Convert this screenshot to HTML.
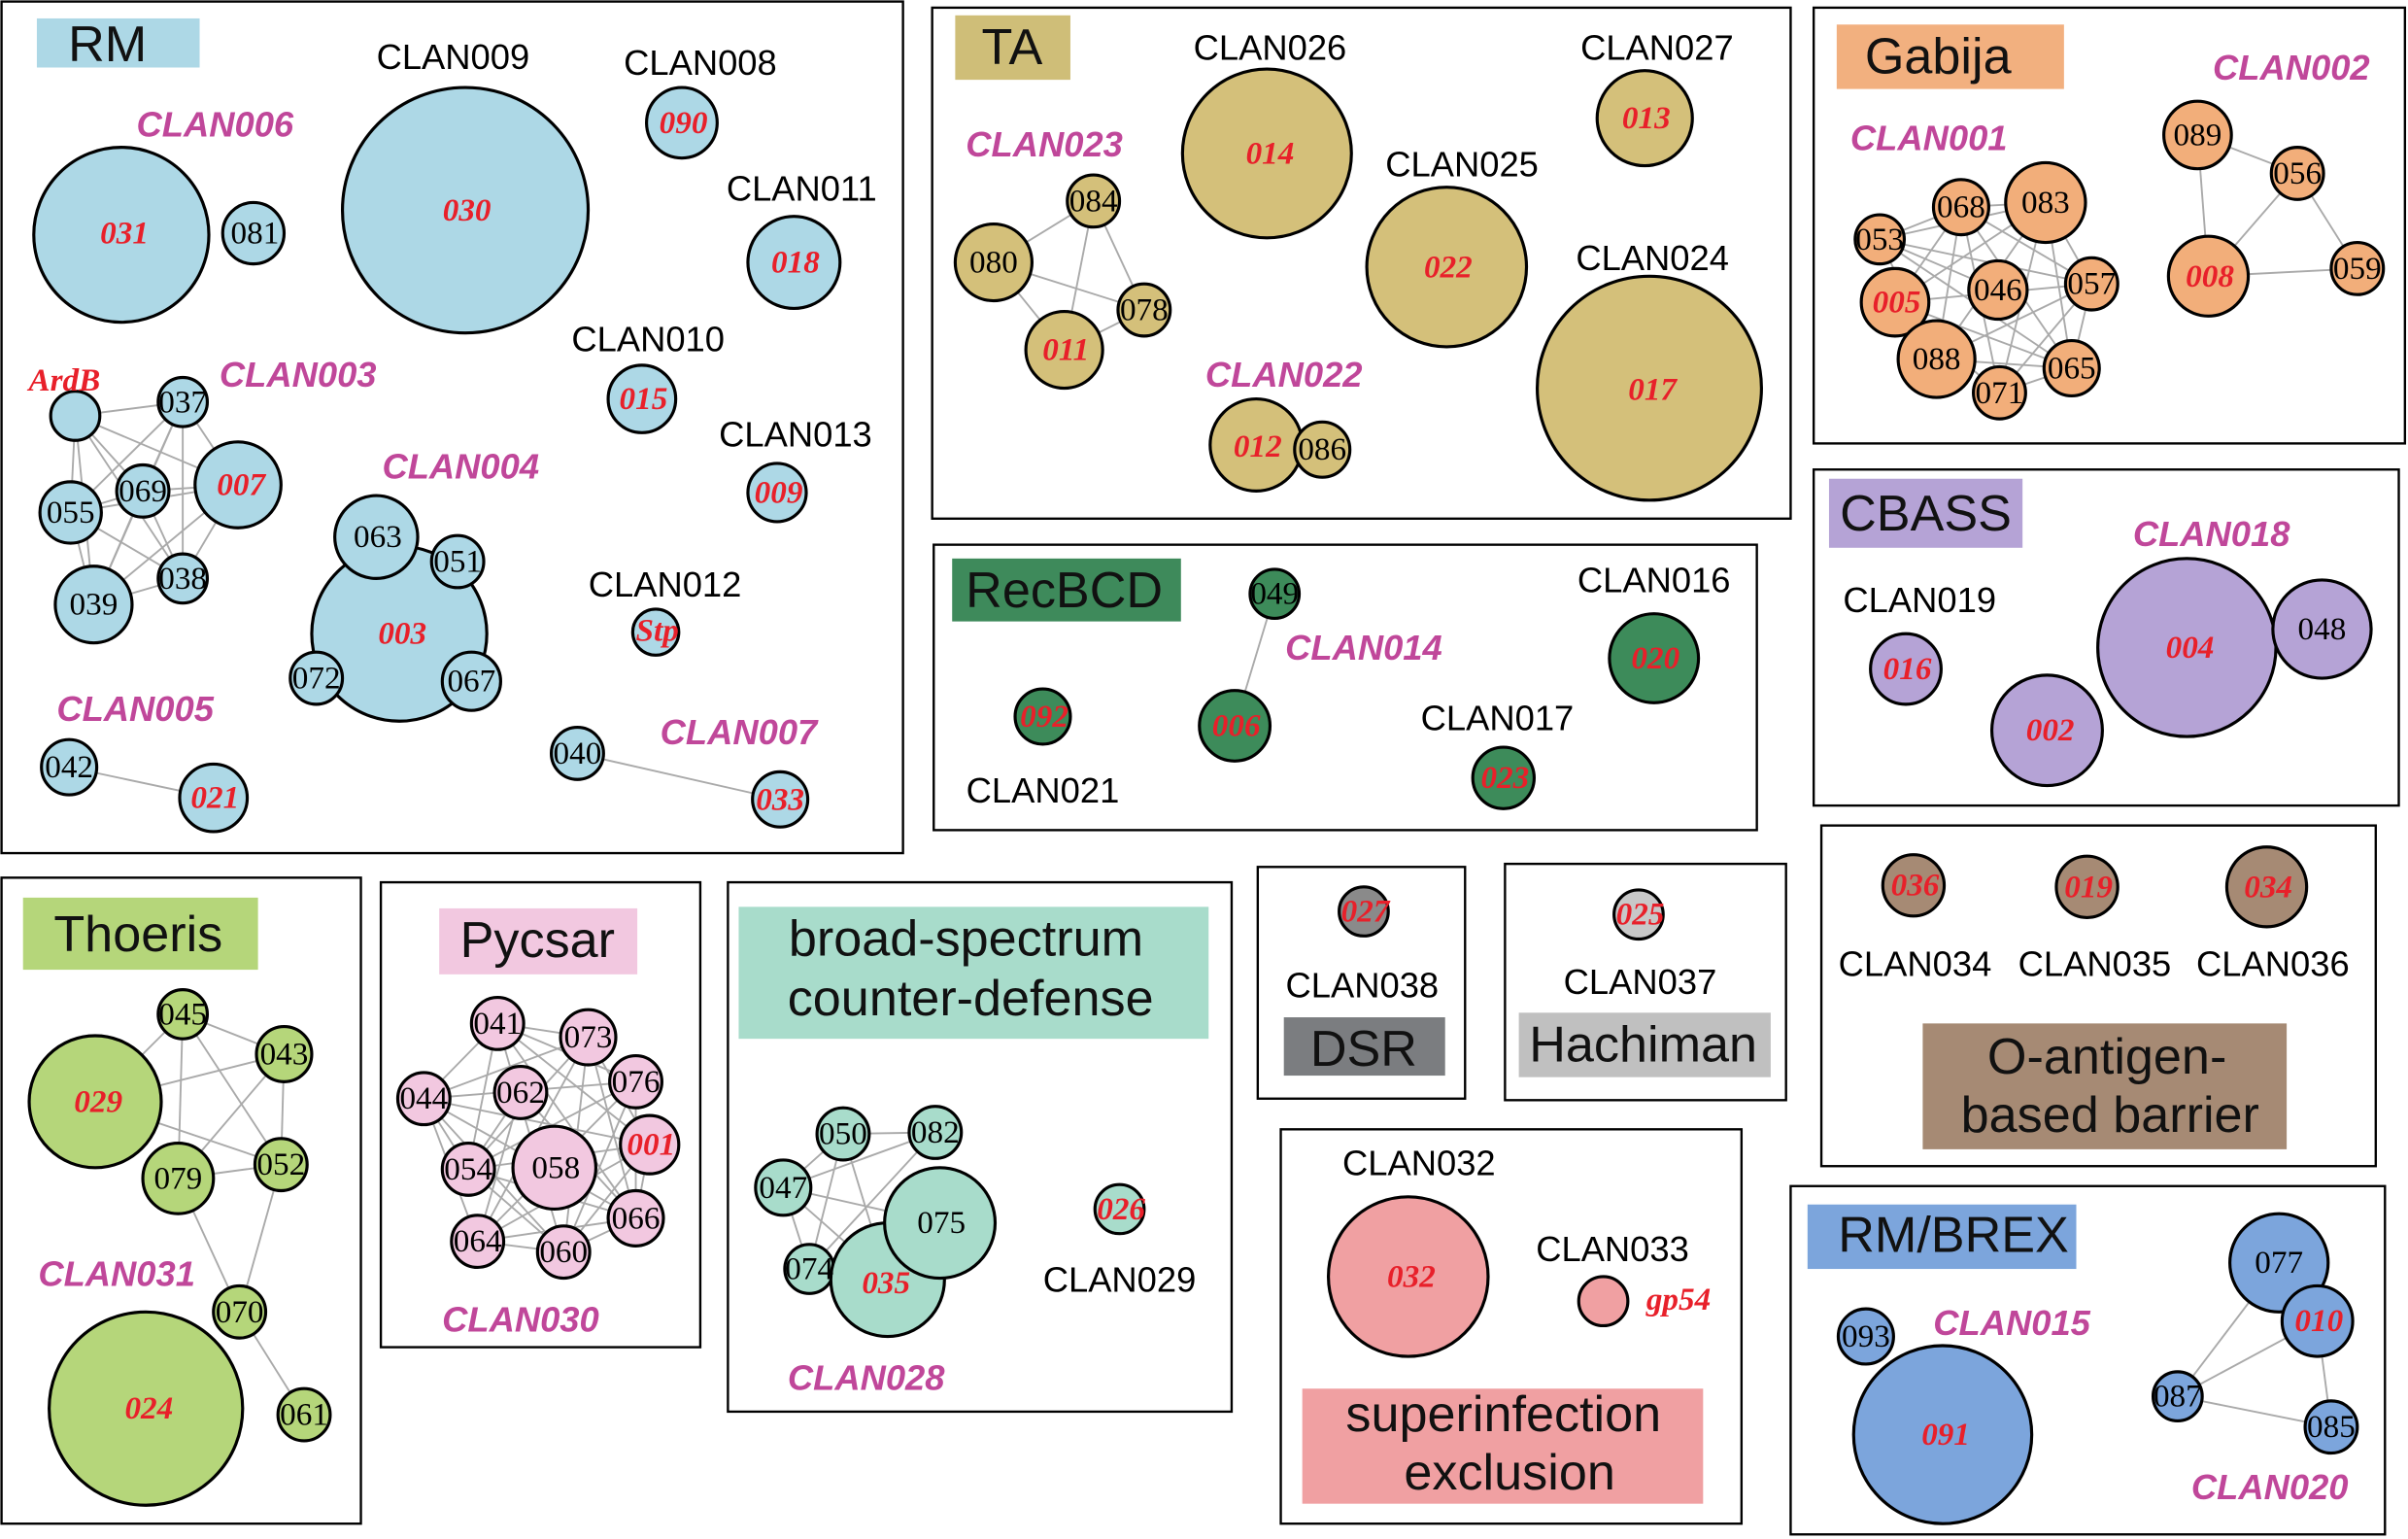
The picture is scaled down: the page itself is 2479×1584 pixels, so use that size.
<!DOCTYPE html>
<html><head><meta charset="utf-8"><style>
html,body{margin:0;padding:0;background:#fff}
svg{display:block}
.b{fill:none;stroke:#000;stroke-width:1.5}
.e line{stroke:#aaa;stroke-width:1.2}
circle{stroke:#000;stroke-width:2}
.k{font-family:"Liberation Serif",serif;font-size:21px;fill:#000;text-anchor:middle;dominant-baseline:central}
.r{font-family:"Liberation Serif",serif;font-size:21px;fill:#e8202a;font-weight:bold;font-style:italic;text-anchor:middle;dominant-baseline:central}
.c{font-family:"Liberation Sans",sans-serif;font-size:23px;fill:#000;text-anchor:middle;dominant-baseline:central}
.m{font-family:"Liberation Sans",sans-serif;font-size:23px;fill:#c0479a;font-weight:bold;font-style:italic;text-anchor:middle;dominant-baseline:central}
.t{font-family:"Liberation Sans",sans-serif;font-size:33px;fill:#111;text-anchor:middle;dominant-baseline:central}
</style></head><body>
<svg width="2479" height="1584" viewBox="0 0 1568 1003" preserveAspectRatio="none" xmlns="http://www.w3.org/2000/svg">
<!-- boxes -->
<rect class="b" x="1" y="1" width="587" height="555"/>
<rect class="b" x="607" y="5" width="559" height="333"/>
<rect class="b" x="1181" y="5" width="385" height="284"/>
<rect class="b" x="608" y="355" width="536" height="186"/>
<rect class="b" x="1181" y="306" width="381" height="219"/>
<rect class="b" x="1" y="572" width="234" height="421"/>
<rect class="b" x="248" y="575" width="208" height="303"/>
<rect class="b" x="474" y="575" width="328" height="345"/>
<rect class="b" x="819" y="565" width="135" height="151"/>
<rect class="b" x="980" y="563" width="183" height="154"/>
<rect class="b" x="1186" y="538" width="361" height="222"/>
<rect class="b" x="834" y="736" width="300" height="257"/>
<rect class="b" x="1166" y="773" width="387" height="227"/>
<!-- title labels -->
<rect x="24" y="12" width="106" height="32" fill="#add8e6"/><text class="t" x="70" y="29">RM</text>
<rect x="622" y="10" width="75" height="42" fill="#cfbe78"/><text class="t" x="659" y="31">TA</text>
<rect x="1196" y="16" width="148" height="42" fill="#f2b07f"/><text class="t" x="1262" y="37">Gabija</text>
<rect x="620" y="364" width="149" height="41" fill="#3e8a5b"/><text class="t" x="693" y="385">RecBCD</text>
<rect x="1191" y="312" width="126" height="45" fill="#b5a3d6"/><text class="t" x="1254" y="335">CBASS</text>
<rect x="15" y="585" width="153" height="47" fill="#b5d67a"/><text class="t" x="90" y="609">Thoeris</text>
<rect x="286" y="592" width="129" height="43" fill="#f2c8e0"/><text class="t" x="350" y="613">Pycsar</text>
<rect x="481" y="591" width="306" height="86" fill="#a8dccb"/><text class="t" x="629" y="612">broad-spectrum</text><text class="t" x="632" y="651">counter-defense</text>
<rect x="836" y="663" width="105" height="38" fill="#7b7d80"/><text class="t" x="888" y="684">DSR</text>
<rect x="989" y="660" width="164" height="42" fill="#c0c0c0"/><text class="t" x="1070" y="681">Hachiman</text>
<rect x="1252" y="667" width="237" height="82" fill="#a68a74"/><text class="t" x="1372" y="689">O-antigen-</text><text class="t" x="1374" y="727">based barrier</text>
<rect x="848" y="905" width="261" height="75" fill="#f0a0a2"/><text class="t" x="979" y="922">superinfection</text><text class="t" x="983" y="960">exclusion</text>
<rect x="1177" y="785" width="175" height="42" fill="#7ca5dc"/><text class="t" x="1272" y="805">RM/BREX</text>
<!-- edges -->
<g class="e">
<line x1="49" y1="271" x2="119" y2="262"/><line x1="49" y1="271" x2="155" y2="316"/><line x1="49" y1="271" x2="93" y2="320"/><line x1="49" y1="271" x2="46" y2="334"/><line x1="49" y1="271" x2="119" y2="377"/><line x1="49" y1="271" x2="61" y2="394"/>
<line x1="119" y1="262" x2="155" y2="316"/><line x1="119" y1="262" x2="93" y2="320"/><line x1="119" y1="262" x2="46" y2="334"/><line x1="119" y1="262" x2="119" y2="377"/><line x1="119" y1="262" x2="61" y2="394"/>
<line x1="155" y1="316" x2="93" y2="320"/><line x1="155" y1="316" x2="46" y2="334"/><line x1="155" y1="316" x2="119" y2="377"/><line x1="155" y1="316" x2="61" y2="394"/>
<line x1="93" y1="320" x2="46" y2="334"/><line x1="93" y1="320" x2="119" y2="377"/><line x1="93" y1="320" x2="61" y2="394"/><line x1="46" y1="334" x2="119" y2="377"/><line x1="46" y1="334" x2="61" y2="394"/><line x1="119" y1="377" x2="61" y2="394"/>
<line x1="45" y1="500" x2="139" y2="520"/><line x1="376" y1="491" x2="508" y2="521"/>
<line x1="647" y1="171" x2="712" y2="131"/><line x1="647" y1="171" x2="745" y2="202"/><line x1="712" y1="131" x2="745" y2="202"/><line x1="712" y1="131" x2="693" y2="228"/><line x1="647" y1="171" x2="693" y2="228"/><line x1="745" y1="202" x2="693" y2="228"/>
<line x1="1224" y1="156" x2="1277" y2="135"/><line x1="1224" y1="156" x2="1332" y2="132"/><line x1="1224" y1="156" x2="1301" y2="189"/><line x1="1224" y1="156" x2="1362" y2="185"/><line x1="1224" y1="156" x2="1261" y2="234"/><line x1="1224" y1="156" x2="1349" y2="240"/>
<line x1="1277" y1="135" x2="1332" y2="132"/><line x1="1277" y1="135" x2="1234" y2="197"/><line x1="1277" y1="135" x2="1362" y2="185"/><line x1="1277" y1="135" x2="1261" y2="234"/><line x1="1277" y1="135" x2="1302" y2="256"/><line x1="1277" y1="135" x2="1349" y2="240"/>
<line x1="1332" y1="132" x2="1234" y2="197"/><line x1="1332" y1="132" x2="1362" y2="185"/><line x1="1332" y1="132" x2="1261" y2="234"/><line x1="1332" y1="132" x2="1302" y2="256"/><line x1="1332" y1="132" x2="1349" y2="240"/>
<line x1="1234" y1="197" x2="1362" y2="185"/><line x1="1234" y1="197" x2="1302" y2="256"/><line x1="1234" y1="197" x2="1349" y2="240"/><line x1="1362" y1="185" x2="1261" y2="234"/><line x1="1362" y1="185" x2="1302" y2="256"/><line x1="1261" y1="234" x2="1349" y2="240"/><line x1="1302" y1="256" x2="1349" y2="240"/><line x1="1362" y1="185" x2="1349" y2="240"/>
<line x1="1431" y1="88" x2="1496" y2="113"/><line x1="1431" y1="88" x2="1438" y2="180"/><line x1="1496" y1="113" x2="1438" y2="180"/><line x1="1438" y1="180" x2="1535" y2="175"/><line x1="1496" y1="113" x2="1535" y2="175"/>
<line x1="830" y1="387" x2="804" y2="473"/>
<line x1="119" y1="661" x2="185" y2="687"/><line x1="119" y1="661" x2="62" y2="718"/><line x1="119" y1="661" x2="116" y2="768"/><line x1="119" y1="661" x2="183" y2="759"/><line x1="185" y1="687" x2="62" y2="718"/><line x1="185" y1="687" x2="116" y2="768"/><line x1="185" y1="687" x2="183" y2="759"/><line x1="62" y1="718" x2="183" y2="759"/><line x1="116" y1="768" x2="183" y2="759"/><line x1="183" y1="759" x2="156" y2="855"/><line x1="116" y1="768" x2="156" y2="855"/><line x1="156" y1="855" x2="198" y2="922"/>
<line x1="324" y1="667" x2="383" y2="676"/><line x1="324" y1="667" x2="414" y2="705"/><line x1="324" y1="667" x2="276" y2="716"/><line x1="324" y1="667" x2="423" y2="746"/><line x1="324" y1="667" x2="305" y2="762"/><line x1="324" y1="667" x2="414" y2="794"/><line x1="324" y1="667" x2="367" y2="816"/>
<line x1="383" y1="676" x2="276" y2="716"/><line x1="383" y1="676" x2="423" y2="746"/><line x1="383" y1="676" x2="305" y2="762"/><line x1="383" y1="676" x2="311" y2="809"/><line x1="383" y1="676" x2="414" y2="794"/><line x1="383" y1="676" x2="367" y2="816"/>
<line x1="414" y1="705" x2="276" y2="716"/><line x1="414" y1="705" x2="305" y2="762"/><line x1="414" y1="705" x2="311" y2="809"/><line x1="414" y1="705" x2="367" y2="816"/><line x1="414" y1="705" x2="414" y2="794"/>
<line x1="276" y1="716" x2="423" y2="746"/><line x1="276" y1="716" x2="311" y2="809"/><line x1="276" y1="716" x2="414" y2="794"/><line x1="276" y1="716" x2="367" y2="816"/><line x1="276" y1="716" x2="305" y2="762"/>
<line x1="423" y1="746" x2="305" y2="762"/><line x1="423" y1="746" x2="311" y2="809"/><line x1="423" y1="746" x2="367" y2="816"/><line x1="423" y1="746" x2="414" y2="794"/>
<line x1="305" y1="762" x2="414" y2="794"/><line x1="305" y1="762" x2="367" y2="816"/><line x1="311" y1="809" x2="414" y2="794"/><line x1="311" y1="809" x2="367" y2="816"/><line x1="367" y1="816" x2="414" y2="794"/><line x1="339" y1="712" x2="305" y2="762"/><line x1="339" y1="712" x2="414" y2="794"/><line x1="339" y1="712" x2="311" y2="809"/>
<line x1="549" y1="739" x2="609" y2="738"/><line x1="549" y1="739" x2="510" y2="774"/><line x1="549" y1="739" x2="527" y2="827"/><line x1="549" y1="739" x2="578" y2="834"/><line x1="609" y1="738" x2="510" y2="774"/><line x1="609" y1="738" x2="527" y2="827"/><line x1="510" y1="774" x2="527" y2="827"/><line x1="510" y1="774" x2="612" y2="797"/><line x1="510" y1="774" x2="578" y2="834"/><line x1="527" y1="827" x2="612" y2="797"/>
<line x1="1484" y1="823" x2="1418" y2="910"/><line x1="1509" y1="861" x2="1418" y2="910"/><line x1="1418" y1="910" x2="1518" y2="930"/><line x1="1509" y1="861" x2="1518" y2="930"/>
</g>
<!-- RM nodes -->
<g fill="#add8e6">
<circle cx="79" cy="153" r="57"/><circle cx="165" cy="152" r="20"/><circle cx="303" cy="137" r="80"/><circle cx="444" cy="80" r="23"/><circle cx="517" cy="171" r="30"/><circle cx="418" cy="260" r="22"/><circle cx="506" cy="321" r="19"/><circle cx="427" cy="412" r="15"/>
<circle cx="49" cy="271" r="16"/><circle cx="119" cy="262" r="16"/><circle cx="155" cy="316" r="28"/><circle cx="93" cy="320" r="17"/><circle cx="46" cy="334" r="20"/><circle cx="119" cy="377" r="16"/><circle cx="61" cy="394" r="25"/>
<circle cx="260" cy="413" r="57"/><circle cx="245" cy="350" r="27"/><circle cx="298" cy="366" r="17"/><circle cx="206" cy="442" r="17"/><circle cx="307" cy="444" r="19"/>
<circle cx="45" cy="500" r="18"/><circle cx="139" cy="520" r="22"/><circle cx="376" cy="491" r="17"/><circle cx="508" cy="521" r="18"/>
</g>
<text class="r" x="81" y="152">031</text><text class="k" x="166" y="152">081</text><text class="r" x="304" y="137">030</text><text class="r" x="445" y="80">090</text><text class="r" x="518" y="171">018</text><text class="r" x="419" y="260">015</text><text class="r" x="507" y="321">009</text><text class="r" x="428" y="411">Stp</text>
<text class="r" x="42" y="248">ArdB</text><text class="k" x="119" y="262">037</text><text class="r" x="157" y="316">007</text><text class="k" x="93" y="320">069</text><text class="k" x="46" y="334">055</text><text class="k" x="119" y="377">038</text><text class="k" x="61" y="394">039</text>
<text class="r" x="262" y="413">003</text><text class="k" x="246" y="350">063</text><text class="k" x="298" y="366">051</text><text class="k" x="206" y="442">072</text><text class="k" x="307" y="444">067</text>
<text class="k" x="45" y="500">042</text><text class="r" x="140" y="520">021</text><text class="k" x="376" y="491">040</text><text class="r" x="508" y="521">033</text>
<text class="c" x="295" y="37">CLAN009</text><text class="c" x="456" y="41">CLAN008</text><text class="m" x="140" y="81">CLAN006</text><text class="c" x="522" y="123">CLAN011</text><text class="c" x="422" y="221">CLAN010</text><text class="m" x="194" y="244">CLAN003</text><text class="m" x="300" y="304">CLAN004</text><text class="c" x="518" y="283">CLAN013</text><text class="c" x="433" y="381">CLAN012</text><text class="m" x="88" y="462">CLAN005</text><text class="m" x="481" y="477">CLAN007</text>
<!-- TA -->
<g fill="#d4c07a">
<circle cx="825" cy="100" r="55"/><circle cx="1071" cy="77" r="31"/><circle cx="942" cy="174" r="52"/><circle cx="1074" cy="253" r="73"/><circle cx="712" cy="131" r="17"/><circle cx="647" cy="171" r="25"/><circle cx="745" cy="202" r="17"/><circle cx="693" cy="228" r="25"/><circle cx="818" cy="290" r="30"/><circle cx="861" cy="293" r="18"/>
</g>
<text class="r" x="827" y="100">014</text><text class="r" x="1072" y="77">013</text><text class="r" x="943" y="174">022</text><text class="r" x="1076" y="254">017</text><text class="k" x="712" y="131">084</text><text class="k" x="647" y="171">080</text><text class="k" x="745" y="202">078</text><text class="r" x="694" y="228">011</text><text class="r" x="819" y="291">012</text><text class="k" x="861" y="293">086</text>
<text class="c" x="827" y="31">CLAN026</text><text class="c" x="1079" y="31">CLAN027</text><text class="m" x="680" y="94">CLAN023</text><text class="c" x="952" y="107">CLAN025</text><text class="c" x="1076" y="168">CLAN024</text><text class="m" x="836" y="244">CLAN022</text>
<!-- Gabija -->
<g fill="#f2ae7a">
<circle cx="1224" cy="156" r="16"/><circle cx="1277" cy="135" r="18"/><circle cx="1332" cy="132" r="26"/><circle cx="1234" cy="197" r="22"/><circle cx="1301" cy="189" r="19"/><circle cx="1362" cy="185" r="17"/><circle cx="1261" cy="234" r="25"/><circle cx="1302" cy="256" r="17"/><circle cx="1349" cy="240" r="18"/>
<circle cx="1431" cy="88" r="22"/><circle cx="1496" cy="113" r="17"/><circle cx="1438" cy="180" r="26"/><circle cx="1535" cy="175" r="17"/>
</g>
<text class="k" x="1224" y="156">053</text><text class="k" x="1277" y="135">068</text><text class="k" x="1332" y="132">083</text><text class="r" x="1235" y="197">005</text><text class="k" x="1301" y="189">046</text><text class="k" x="1362" y="185">057</text><text class="k" x="1261" y="234">088</text><text class="k" x="1302" y="256">071</text><text class="k" x="1349" y="240">065</text>
<text class="k" x="1431" y="88">089</text><text class="k" x="1496" y="113">056</text><text class="r" x="1439" y="180">008</text><text class="k" x="1535" y="175">059</text>
<text class="m" x="1256" y="90">CLAN001</text><text class="m" x="1492" y="44">CLAN002</text>
<!-- RecBCD -->
<g fill="#3d8b5a">
<circle cx="830" cy="387" r="16"/><circle cx="804" cy="473" r="23"/><circle cx="679" cy="467" r="18"/><circle cx="1077" cy="429" r="29"/><circle cx="979" cy="507" r="20"/>
</g>
<text class="k" x="830" y="387">049</text><text class="r" x="805" y="473">006</text><text class="r" x="680" y="467">092</text><text class="r" x="1078" y="429">020</text><text class="r" x="980" y="507">023</text>
<text class="c" x="1077" y="378">CLAN016</text><text class="m" x="888" y="422">CLAN014</text><text class="c" x="975" y="468">CLAN017</text><text class="c" x="679" y="515">CLAN021</text>
<!-- CBASS -->
<g fill="#b5a3d6">
<circle cx="1241" cy="436" r="23"/><circle cx="1424" cy="422" r="58"/><circle cx="1512" cy="410" r="32"/><circle cx="1333" cy="476" r="36"/>
</g>
<text class="r" x="1242" y="436">016</text><text class="r" x="1426" y="422">004</text><text class="k" x="1512" y="410">048</text><text class="r" x="1335" y="476">002</text>
<text class="m" x="1440" y="348">CLAN018</text><text class="c" x="1250" y="391">CLAN019</text>
<!-- Thoeris -->
<g fill="#b5d67a">
<circle cx="119" cy="661" r="16"/><circle cx="185" cy="687" r="18"/><circle cx="62" cy="718" r="43"/><circle cx="116" cy="768" r="23"/><circle cx="183" cy="759" r="17"/><circle cx="156" cy="855" r="17"/><circle cx="95" cy="918" r="63"/><circle cx="198" cy="922" r="17"/>
</g>
<text class="k" x="119" y="661">045</text><text class="k" x="185" y="687">043</text><text class="r" x="64" y="718">029</text><text class="k" x="116" y="768">079</text><text class="k" x="183" y="759">052</text><text class="k" x="156" y="855">070</text><text class="r" x="97" y="918">024</text><text class="k" x="198" y="922">061</text>
<text class="m" x="76" y="830">CLAN031</text>
<!-- Pycsar -->
<g fill="#f2c8e0">
<circle cx="324" cy="667" r="17"/><circle cx="383" cy="676" r="18"/><circle cx="414" cy="705" r="17"/><circle cx="276" cy="716" r="17"/><circle cx="339" cy="712" r="17"/><circle cx="423" cy="746" r="19"/><circle cx="361" cy="761" r="27"/><circle cx="305" cy="762" r="17"/><circle cx="414" cy="794" r="18"/><circle cx="311" cy="809" r="17"/><circle cx="367" cy="816" r="17"/>
</g>
<text class="k" x="324" y="667">041</text><text class="k" x="383" y="676">073</text><text class="k" x="414" y="705">076</text><text class="k" x="276" y="716">044</text><text class="k" x="339" y="712">062</text><text class="r" x="424" y="746">001</text><text class="k" x="362" y="761">058</text><text class="k" x="305" y="762">054</text><text class="k" x="414" y="794">066</text><text class="k" x="311" y="809">064</text><text class="k" x="367" y="816">060</text>
<text class="m" x="339" y="860">CLAN030</text>
<!-- broad -->
<g fill="#a8dccb">
<circle cx="549" cy="739" r="17"/><circle cx="609" cy="738" r="17"/><circle cx="510" cy="774" r="18"/><circle cx="527" cy="827" r="16"/><circle cx="578" cy="834" r="37"/><circle cx="612" cy="797" r="36"/><circle cx="729" cy="788" r="16"/>
</g>
<text class="k" x="549" y="739">050</text><text class="k" x="609" y="738">082</text><text class="k" x="510" y="774">047</text><text class="k" x="527" y="827">074</text><text class="r" x="577" y="836">035</text><text class="k" x="613" y="797">075</text><text class="r" x="730" y="788">026</text>
<text class="m" x="564" y="898">CLAN028</text><text class="c" x="729" y="834">CLAN029</text>
<!-- DSR / Hachiman -->
<circle cx="888" cy="594" r="16" fill="#8a8a8a"/><text class="r" x="889" y="594">027</text><text class="c" x="887" y="642">CLAN038</text>
<circle cx="1067" cy="596" r="16" fill="#c8c8c8"/><text class="r" x="1068" y="596">025</text><text class="c" x="1068" y="640">CLAN037</text>
<!-- O-antigen -->
<g fill="#a68a74"><circle cx="1246" cy="577" r="20"/><circle cx="1359" cy="578" r="20"/><circle cx="1476" cy="578" r="26"/></g>
<text class="r" x="1247" y="577">036</text><text class="r" x="1360" y="578">019</text><text class="r" x="1477" y="578">034</text>
<text class="c" x="1247" y="628">CLAN034</text><text class="c" x="1364" y="628">CLAN035</text><text class="c" x="1480" y="628">CLAN036</text>
<!-- superinfection -->
<g fill="#f0a0a2"><circle cx="917" cy="832" r="52"/><circle cx="1044" cy="848" r="16"/></g>
<text class="r" x="919" y="832">032</text><text class="r" x="1093" y="847">gp54</text>
<text class="c" x="924" y="758">CLAN032</text><text class="c" x="1050" y="814">CLAN033</text>
<!-- RM/BREX -->
<g fill="#7ca5dc">
<circle cx="1215" cy="871" r="18"/><circle cx="1265" cy="935" r="58"/><circle cx="1484" cy="823" r="32"/><circle cx="1509" cy="861" r="23"/><circle cx="1418" cy="910" r="16"/><circle cx="1518" cy="930" r="17"/>
</g>
<text class="k" x="1215" y="871">093</text><text class="r" x="1267" y="935">091</text><text class="k" x="1484" y="823">077</text><text class="r" x="1510" y="861">010</text><text class="k" x="1418" y="910">087</text><text class="k" x="1518" y="930">085</text>
<text class="m" x="1310" y="862">CLAN015</text><text class="m" x="1478" y="969">CLAN020</text>
</svg>
</body></html>
